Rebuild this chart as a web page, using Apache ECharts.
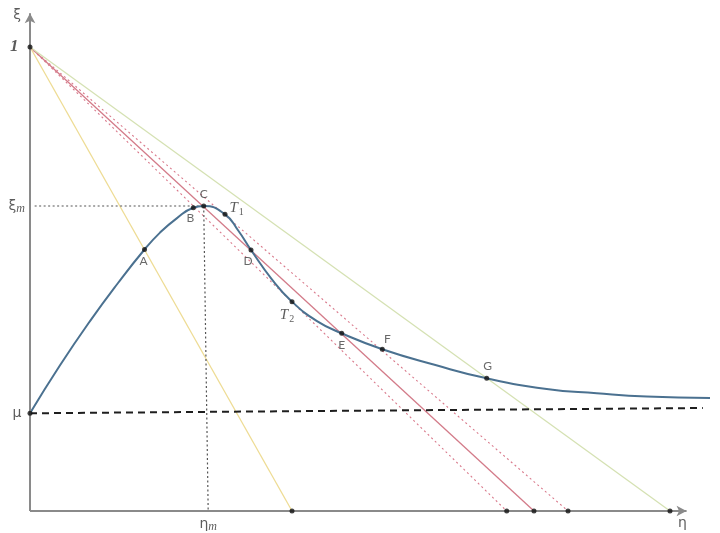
<!DOCTYPE html>
<html><head><meta charset="utf-8">
<script src="https://cdn.jsdelivr.net/npm/echarts@6/dist/echarts.min.js"></script>
<style>html,body{margin:0;padding:0;background:#fff}#c{width:720px;height:533px}</style>
</head><body><div id="c"></div>
<script>
// ---- data (normalised units: xi of point "1" = 1) ----
const curveEta = [0, 0.0647, 0.1293, 0.1897, 0.2468, 0.2802, 0.3168, 0.3519, 0.3744, 0.4203, 0.4483, 0.4763, 0.5205, 0.5647, 0.6185, 0.6718, 0.7593, 0.8718, 0.9843, 1.1136, 1.2213, 1.3291, 1.4655];
const curveXi  = [0.2106, 0.3140, 0.4093, 0.4914, 0.5636, 0.6000, 0.6313, 0.6537, 0.6573, 0.6394, 0.6050, 0.5625, 0.5004, 0.4511, 0.4093, 0.3830, 0.3487, 0.3151, 0.2860, 0.2631, 0.2539, 0.2468, 0.2435];
const pointNames = ['A', 'B', 'C', 'T1', 'D', 'T2', 'E', 'F', 'G'];
const pointEta = [0.2468, 0.3519, 0.3744, 0.4203, 0.4763, 0.5647, 0.6718, 0.7593, 0.9843];
const pointXi  = [0.5636, 0.6537, 0.6573, 0.6394, 0.5625, 0.4511, 0.3830, 0.3485, 0.2860];
const rayNames = ['yellow', 'dashInner', 'red', 'dashOuter', 'green'];
const rayEnd   = [0.5647, 1.0274, 1.0862, 1.1595, 1.3793];
const xiOne = 1;
const mu = 0.2106;
const xiM = 0.6573;
const etaMTop = 0.3744;
const etaMBottom = 0.384;
const asymEta = [0, 1.45];
const asymXi  = [0.2106, 0.2220];
const axisEndEta = 1.415, axisEndXi = 1.073;
const xMax = 1.48, yMax = 1.073;

// ---- layout / styles ----
const PX = 464;
const rayStyle = {
  yellow:    {color: '#eedc94', width: 1.3, type: 'solid'},
  dashInner: {color: '#d9798b', width: 1.1, type: [2, 3]},
  red:       {color: '#d37b89', width: 1.3, type: 'solid'},
  dashOuter: {color: '#d9798b', width: 1.1, type: [2, 3]},
  green:     {color: '#d5e1b3', width: 1.3, type: 'solid'}
};
const labelPos = {
  A:  {position: 'bottom', distance: 3, offset: [-1, 0]},
  B:  {position: 'bottom', distance: 2, offset: [-3, 0]},
  C:  {position: 'top', distance: 3, offset: [0, 0]},
  T1: {position: 'right', distance: 2, offset: [0, -6]},
  D:  {position: 'bottom', distance: 3, offset: [-3, 0]},
  T2: {position: 'bottom', distance: 2, offset: [-5, 0]},
  E:  {position: 'bottom', distance: 3, offset: [0, 0]},
  F:  {position: 'top', distance: 2, offset: [5, 0]},
  G:  {position: 'top', distance: 4, offset: [1, 0]}
};
const subRich = {
  t: {fontFamily: 'Liberation Serif', fontStyle: 'italic', fontSize: 15, color: '#333', lineHeight: 18, verticalAlign: 'middle'},
  s: {fontFamily: 'Liberation Serif', fontSize: 10, color: '#333', lineHeight: 18, verticalAlign: 'bottom', padding: [0, 0, 0, 1]},
  g: {fontFamily: 'DejaVu Sans', fontSize: 14, color: '#333', lineHeight: 18, verticalAlign: 'middle'},
  m: {fontFamily: 'Liberation Serif', fontStyle: 'italic', fontSize: 12, color: '#333', lineHeight: 18, verticalAlign: 'bottom'}
};
function fmtPoint(name) {
  if (name[0] === 'T') return '{t|T}{s|' + name.slice(1) + '}';
  return name;
}

const axisStyle = {color: '#8a8a8a', width: 2, type: 'solid'};
const series = [];
// axes drawn as arrows
series.push({type: 'line', data: [], silent: true, z: 1,
  markLine: {silent: true, symbol: ['none', 'arrow'], symbolSize: [8, 10], animation: false,
    label: {show: false}, lineStyle: axisStyle,
    data: [
      [{coord: [0, 0]}, {coord: [axisEndEta, 0]}],
      [{coord: [0, 0]}, {coord: [0, axisEndXi]}]
    ]}});
// rays from (0,1)
rayNames.forEach((n, i) => {
  series.push({
    type: 'line', name: n, showSymbol: false, silent: true, z: 2,
    data: [[0, xiOne], [rayEnd[i], 0]],
    lineStyle: rayStyle[n]
  });
});
// dotted guides xi_m and eta_m
series.push({type: 'line', showSymbol: false, silent: true, z: 2,
  data: [[0.01, xiM], [etaMTop, xiM]],
  lineStyle: {color: '#555', width: 1.2, type: [2, 2.5]}});
series.push({type: 'line', showSymbol: false, silent: true, z: 2,
  data: [[etaMTop, xiM], [etaMBottom, 0]],
  lineStyle: {color: '#555', width: 1.2, type: [2, 2.5]}});
// asymptote
series.push({type: 'line', showSymbol: false, silent: true, z: 3,
  data: asymEta.map((e, i) => [e, asymXi[i]]),
  lineStyle: {color: '#1e1e1e', width: 2, type: [7, 5]}});
// curve
series.push({type: 'line', showSymbol: false, silent: true, z: 4, smooth: 0.5,
  data: curveEta.map((e, i) => [e, curveXi[i]]),
  lineStyle: {color: '#4b7190', width: 2}});
// named points
series.push({type: 'scatter', symbolSize: 5, z: 6,
  itemStyle: {color: '#111'},
  data: pointNames.map((n, i) => ({
    value: [pointEta[i], pointXi[i]], name: n,
    label: Object.assign({show: true, formatter: fmtPoint(n), rich: subRich,
      fontFamily: 'Lato', fontSize: 12, color: '#444'}, labelPos[n])
  }))});
// axis points: 1, mu, ray ends
series.push({type: 'scatter', symbolSize: 5, z: 6, clip: false,
  itemStyle: {color: '#111'},
  data: [
    {value: [0, xiOne], label: {show: true, position: 'left', distance: 9, formatter: '1',
      fontFamily: 'Liberation Serif', fontStyle: 'italic', fontWeight: 'bold', fontSize: 17, color: '#333'}},
    {value: [0, mu], label: {show: true, position: 'left', distance: 6, formatter: 'μ',
      fontFamily: 'DejaVu Sans', fontSize: 14, color: '#333'}}
  ].concat(rayEnd.map(e => ({value: [e, 0]})))});
// xi_m, eta_m and axis-name labels
series.push({type: 'scatter', symbolSize: 0, z: 6, clip: false, silent: true,
  data: [
    {value: [0, xiM], label: {show: true, position: 'left', distance: 5, formatter: '{g|ξ}{m|m}', rich: subRich}},
    {value: [etaMBottom, 0], label: {show: true, position: 'bottom', distance: 4, formatter: '{g|η}{m|m}', rich: subRich}},
    {value: [axisEndEta, 0], label: {show: true, position: 'bottom', distance: 5, offset: [-4, 0], formatter: 'η',
      fontFamily: 'DejaVu Sans', fontSize: 14, color: '#333'}},
    {value: [0, axisEndXi], label: {show: true, position: 'left', distance: 9, offset: [0, 2], formatter: 'ξ',
      fontFamily: 'DejaVu Sans', fontSize: 14, color: '#333'}}
  ]});

const option = {
  animation: false,
  backgroundColor: '#fff',
  grid: {left: 30, top: 511 - yMax * PX, width: xMax * PX, height: yMax * PX},
  xAxis: {type: 'value', min: 0, max: xMax, axisLine: {show: false}, axisTick: {show: false},
    axisLabel: {show: false}, splitLine: {show: false}},
  yAxis: {type: 'value', min: 0, max: yMax, axisLine: {show: false}, axisTick: {show: false},
    axisLabel: {show: false}, splitLine: {show: false}},
  series: series
};
echarts.init(document.getElementById('c')).setOption(option);
</script></body></html>
